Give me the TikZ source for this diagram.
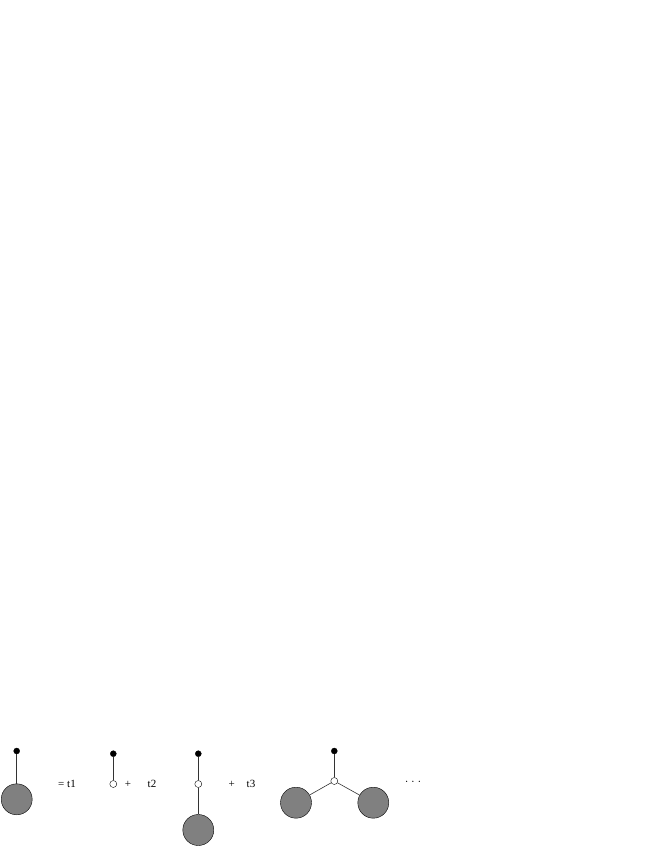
\documentclass[tikz,border=0pt]{standalone}
\usepackage{fontspec}
\setmainfont{Liberation Serif}
\begin{document}
\begin{tikzpicture}[
    x=1pt, y=-1pt,
    leaf/.style={circle, draw, fill=black, inner sep=0pt, minimum size=6pt},
    vertex/.style={circle, draw, fill=white, inner sep=0pt, minimum size=7pt},
    blob/.style={circle, draw, fill=black!50, inner sep=0pt, minimum size=31pt},
    edge/.style={draw=black!80, line width=0.6pt},
    term/.style={font=\fontsize{11}{13}\selectfont}
]
    \useasboundingbox (0,0) rectangle (654,846);

    % Left side
    \node[leaf] (leafA) at (16.7,751) {};
    \node[blob] (blobA) at (16.7,799.3) {};
    \draw[edge] (leafA) -- (blobA);
    \node[term] (eq) at (67,784) {= t1};

    % First term
    \node[leaf] (leafB) at (113.3,753.7) {};
    \node[vertex] (vertB) at (113.3,784) {};
    \draw[edge] (leafB) -- (vertB);
    \node[term] (plusB) at (128,784) {+};
    \node[term] (coefB) at (152,784) {t2};

    % Second term
    \node[leaf] (leafC) at (198.3,753.7) {};
    \node[vertex] (vertC) at (198.3,784) {};
    \node[blob] (blobC) at (198.3,830) {};
    \draw[edge] (leafC) -- (vertC);
    \draw[edge] (vertC) -- (blobC);
    \node[term] (plusC) at (231.7,784) {+};
    \node[term] (coefC) at (251,784) {t3};

    % Third term
    \node[leaf] (leafD) at (334.3,751) {};
    \node[vertex] (vertD) at (334.3,781) {};
    \node[blob] (blobL) at (296,802.7) {};
    \node[blob] (blobR) at (373.3,802.7) {};
    \draw[edge] (leafD) -- (vertD);
    \draw[edge] (vertD) -- (blobL);
    \draw[edge] (vertD) -- (blobR);
    \node[term] (dots) at (413,783) {· · ·};
\end{tikzpicture}
\end{document}
